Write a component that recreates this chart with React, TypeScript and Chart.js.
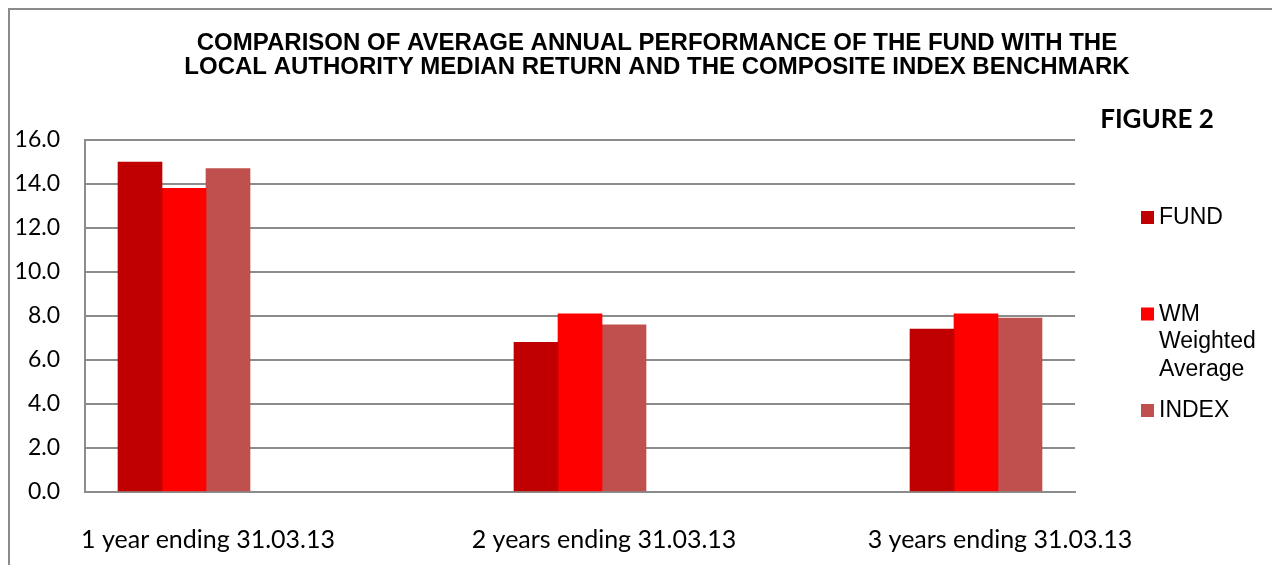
import React, { useEffect, useRef } from "react";
import { Chart, registerables } from "chart.js";

Chart.register(...registerables);

const categories = ["1 year ending 31.03.13", "2 years ending 31.03.13", "3 years ending 31.03.13"];
const categoryPositions = [1, 2, 3];
const fundValues = [15.0, 6.8, 7.4];
const wmValues = [13.8, 8.1, 8.1];
const indexValues = [14.7, 7.6, 7.9];
const seriesLabels = ["FUND", "WM Weighted Average", "INDEX"];
const seriesColors = ["#C00000", "#FF0000", "#C0504D"];
const yTickValues = [0, 2, 4, 6, 8, 10, 12, 14, 16];
const titleLines = [
  "COMPARISON OF AVERAGE ANNUAL PERFORMANCE OF THE FUND WITH THE",
  "LOCAL AUTHORITY MEDIAN RETURN AND THE COMPOSITE INDEX BENCHMARK",
];
const figureLabel = "FIGURE 2";

const GRID = "#8c8c8c";

function wrapText(ctx: CanvasRenderingContext2D, text: string, maxWidth: number): string[] {
  const words = text.split(" ");
  const lines: string[] = [];
  let cur = "";
  for (const w of words) {
    const test = cur ? cur + " " + w : w;
    if (cur && ctx.measureText(test).width > maxWidth) {
      lines.push(cur);
      cur = w;
    } else {
      cur = test;
    }
  }
  if (cur) lines.push(cur);
  return lines;
}

const annotationsPlugin = {
  id: "annotations",
  afterDraw(chart: any) {
    const ctx: CanvasRenderingContext2D = chart.ctx;
    ctx.save();
    ctx.fillStyle = "#000";
    ctx.textAlign = "center";
    ctx.textBaseline = "middle";
    ctx.font = 'bold 24px "Liberation Sans", Arial, sans-serif';
    titleLines.forEach((line, i) => ctx.fillText(line, 647, 33 + i * 24));
    ctx.font = 'bold 26px Lato, "Open Sans", sans-serif';
    ctx.fillText(figureLabel, 1147, 110);

    ctx.textAlign = "left";
    ctx.font = '23px "Liberation Sans", Arial, sans-serif';
    chart.data.datasets.forEach((ds: any, i: number) => {
      const top = 201 + i * 96.5;
      ctx.fillStyle = ds.backgroundColor;
      ctx.fillRect(1131, top, 13, 13);
      ctx.fillStyle = "#000";
      const lines = wrapText(ctx, ds.label, 115);
      lines.forEach((ln, j) => ctx.fillText(ln, 1149, top + 7 + j * 27.5));
    });
    ctx.restore();
  },
};

export default function App() {
  const canvasRef = useRef<HTMLCanvasElement | null>(null);

  useEffect(() => {
    document.body.style.overflow = "hidden";
    const canvas = canvasRef.current;
    if (!canvas) return;
    const seriesValues = [fundValues, wmValues, indexValues];
    const chart = new Chart(canvas, {
      type: "bar",
      data: {
        datasets: seriesValues.map((vals, i) => ({
          label: seriesLabels[i],
          data: vals.map((v, j) => ({ x: categoryPositions[j], y: v })),
          backgroundColor: seriesColors[i],
          borderWidth: 0,
          barThickness: 44,
        })),
      },
      options: {
        responsive: false,
        animation: false,
        layout: { padding: { left: 0, right: 205, top: 130, bottom: 0 } },
        plugins: {
          legend: { display: false },
          title: { display: false },
          tooltip: { enabled: false },
        },
        scales: {
          x: {
            type: "linear",
            offset: false,
            min: 0.75,
            max: 3.25,
            afterBuildTicks: (scale: any) => {
              scale.ticks = categoryPositions.map((v) => ({ value: v }));
            },
            afterFit: (scale: any) => {
              scale.height = 73;
            },
            grid: { display: false, drawTicks: false, offset: false },
            border: { display: true, color: GRID, width: 2 },
            ticks: {
              color: "#000",
              font: { family: "Lato, 'Open Sans', sans-serif", size: 25 },
              padding: 33,
              labelOffset: 24,
              maxRotation: 0,
              autoSkip: false,
              callback: (value: any) => {
                const idx = categoryPositions.indexOf(Number(value));
                return idx >= 0 ? categories[idx] : "";
              },
            },
          },
          y: {
            min: 0,
            max: 16,
            afterBuildTicks: (scale: any) => {
              scale.ticks = yTickValues.map((v) => ({ value: v }));
            },
            afterFit: (scale: any) => {
              scale.width = 75;
            },
            grid: { color: GRID, lineWidth: 2, drawTicks: false },
            border: { display: true, color: GRID, width: 2 },
            ticks: {
              color: "#000",
              font: { family: "Lato, 'Open Sans', sans-serif", size: 23 },
              padding: 25,
              callback: (value: any) => Number(value).toFixed(1),
            },
          },
        },
      },
      plugins: [annotationsPlugin],
    } as any);
    return () => chart.destroy();
  }, []);

  return (
    <div
      style={{
        width: 1400,
        height: 700,
        borderLeft: "2px solid #8a8a8a",
        borderTop: "2px solid #8a8a8a",
        background: "#fff",
      }}
    >
      <canvas ref={canvasRef} width={1270} height={555} style={{ display: "block" }} />
    </div>
  );
}
